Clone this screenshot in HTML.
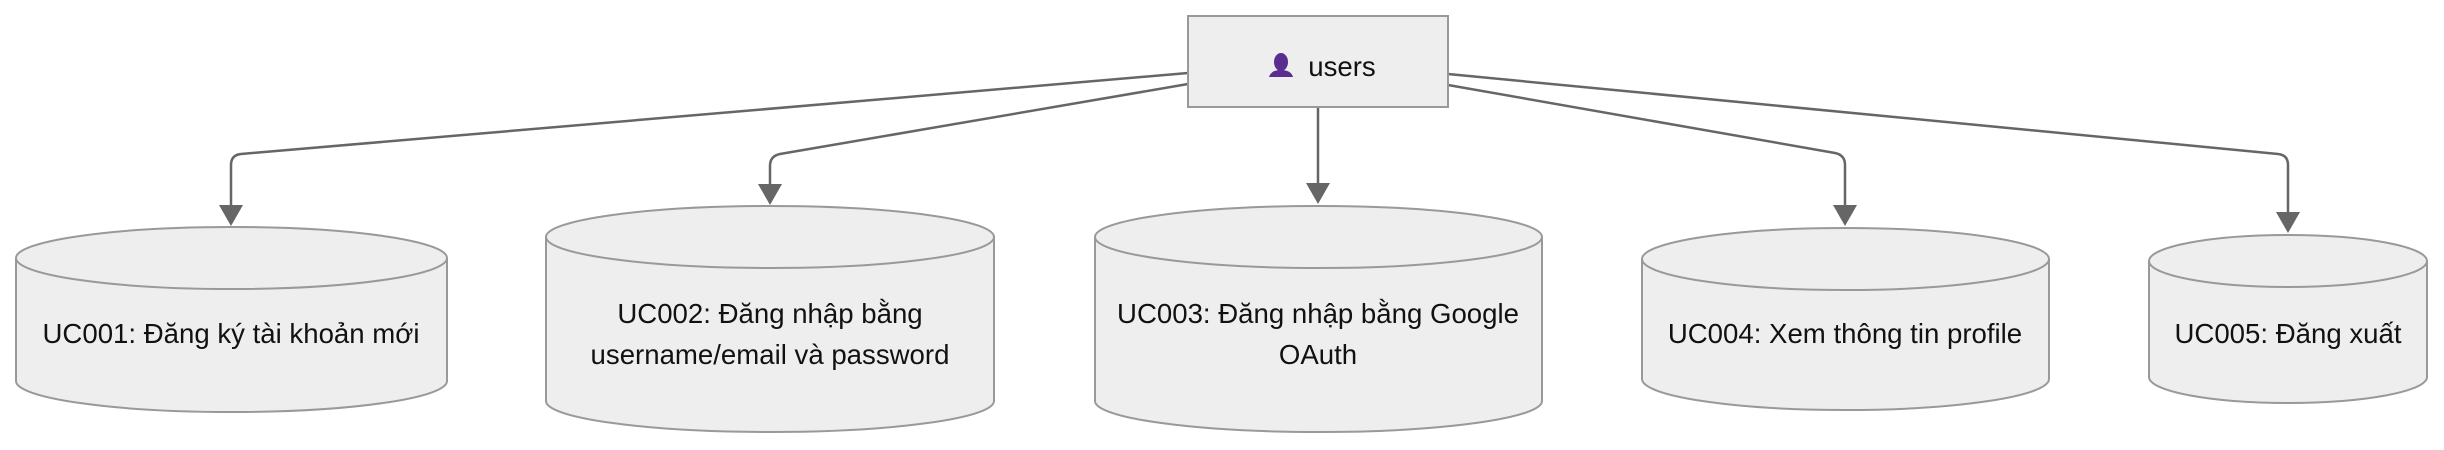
<!DOCTYPE html>
<html><head><meta charset="utf-8"><style>
html,body{margin:0;padding:0;background:#fff;}
svg{display:block;}
text{font-family:"Liberation Sans",Arial,sans-serif;font-size:27.6px;fill:#111;text-anchor:middle;}
</style></head><body>
<svg width="2444" height="450" viewBox="0 0 2444 450" xmlns="http://www.w3.org/2000/svg">
<g fill="none" stroke="#666" stroke-width="2.5">
<path d="M1188,73 L241,154 Q231,155 231,165 L231,206"/>
<path d="M1188,84 L780,154 Q770,156 770,166 L770,184"/>
<path d="M1318,107 L1318,184"/>
<path d="M1448,85 L1835,153 Q1845,155 1845,165 L1845,206"/>
<path d="M1448,74 L2278,154 Q2288,155 2288,165 L2288,212"/>
</g>
<g fill="#666">
<polygon points="219,205 243,205 231,226"/>
<polygon points="758,184 782,184 770,205"/>
<polygon points="1306,183 1330,183 1318,204"/>
<polygon points="1833,205 1857,205 1845,226"/>
<polygon points="2276,212 2300,212 2288,233"/>
</g>
<g fill="#eeeeee" stroke="#999" stroke-width="2">
<rect x="1188" y="16" width="260" height="91"/>
<path d="M16,258 A215.5,31 0 0 1 447,258 L447,381 A215.5,31 0 0 1 16,381 Z"/>
<path d="M16,258 A215.5,31 0 0 0 447,258" fill="none"/>
<path d="M546,237 A224,31 0 0 1 994,237 L994,401 A224,31 0 0 1 546,401 Z"/>
<path d="M546,237 A224,31 0 0 0 994,237" fill="none"/>
<path d="M1095,237 A223.5,31 0 0 1 1542,237 L1542,401 A223.5,31 0 0 1 1095,401 Z"/>
<path d="M1095,237 A223.5,31 0 0 0 1542,237" fill="none"/>
<path d="M1642,259 A203.5,31 0 0 1 2049,259 L2049,379 A203.5,31 0 0 1 1642,379 Z"/>
<path d="M1642,259 A203.5,31 0 0 0 2049,259" fill="none"/>
<path d="M2149,261 A139,26 0 0 1 2427,261 L2427,377 A139,26 0 0 1 2149,377 Z"/>
<path d="M2149,261 A139,26 0 0 0 2427,261" fill="none"/>
</g>
<g fill="#5a2d91">
<ellipse cx="1281" cy="62" rx="7" ry="9"/>
<path d="M1269,77 Q1271,70 1281,70 Q1291,70 1293,77 Z"/>
</g>
<text x="1342" y="76">users</text>
<text x="231" y="343">UC001: Đăng ký tài khoản mới</text>
<text x="770" y="323">UC002: Đăng nhập bằng</text>
<text x="770" y="364">username/email và password</text>
<text x="1318" y="323">UC003: Đăng nhập bằng Google</text>
<text x="1318" y="364">OAuth</text>
<text x="1845" y="343">UC004: Xem thông tin profile</text>
<text x="2288" y="343">UC005: Đăng xuất</text>
</svg>
</body></html>
